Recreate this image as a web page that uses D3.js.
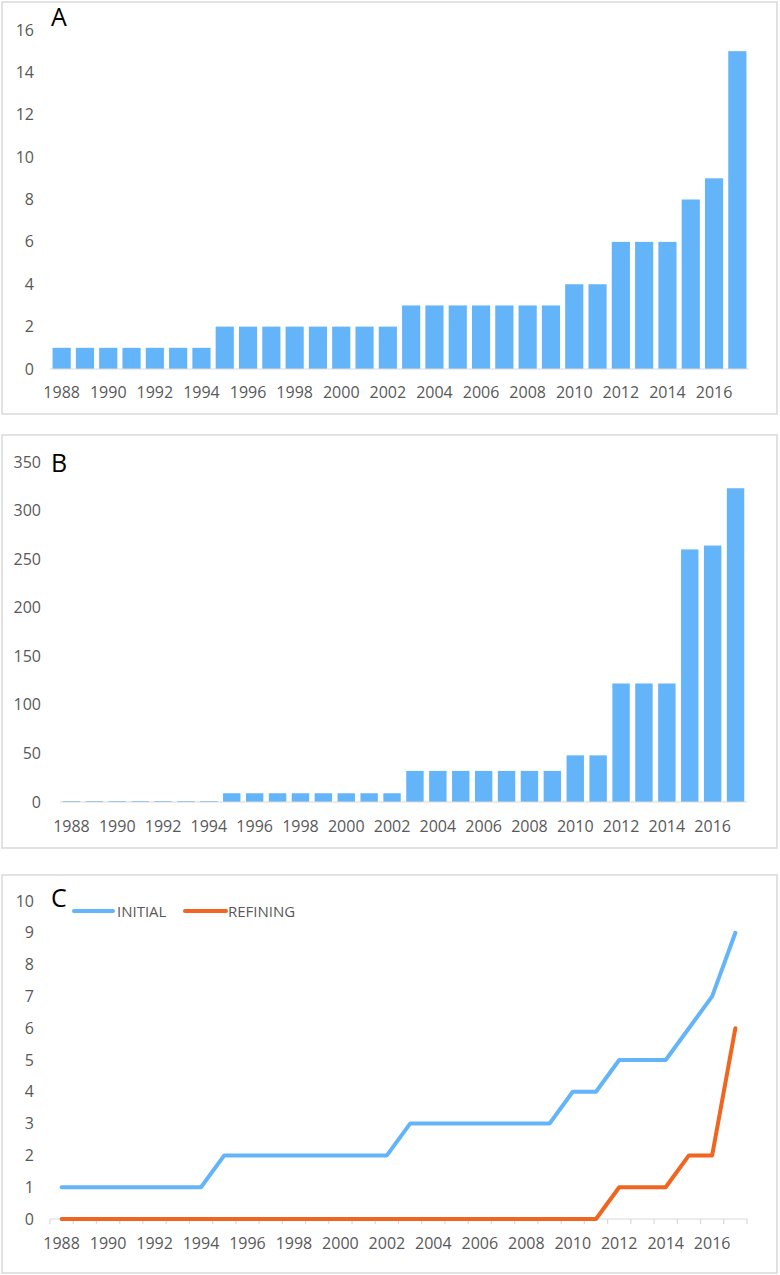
<!DOCTYPE html>
<html>
<head>
<meta charset="utf-8">
<script src="https://cdn.jsdelivr.net/npm/d3@7"></script>
<style>
  body { margin: 0; background: #fff; }
  text { font-family: "Open Sans", "Liberation Sans", sans-serif; }
</style>
</head>
<body>
<svg id="chart" width="780" height="1275"></svg>
<script>
const years = d3.range(1988, 2018);
const tickYears = d3.range(1988, 2017, 2);
const valuesA = [1,1,1,1,1,1,1,2,2,2,2,2,2,2,2,3,3,3,3,3,3,3,4,4,6,6,6,8,9,15];
const valuesB = [1,1,1,1,1,1,1,9,9,9,9,9,9,9,9,32,32,32,32,32,32,32,48,48,122,122,122,260,264,323];
const initial  = [1,1,1,1,1,1,1,2,2,2,2,2,2,2,2,3,3,3,3,3,3,3,4,4,5,5,5,6,7,9];
const refining = [0,0,0,0,0,0,0,0,0,0,0,0,0,0,0,0,0,0,0,0,0,0,0,0,1,1,1,2,2,6];
const ticksA = d3.range(0, 17, 2);
const ticksB = d3.range(0, 351, 50);
const ticksC = d3.range(0, 11, 1);
const seriesNames = ["INITIAL", "REFINING"];

const BLUE = "#64b4fa", ORANGE = "#f0651f", GRID = "#d9d9d9", TXT = "#595959";
const FS = 16;
const svg = d3.select("#chart");

// panel frames
const frames = [
  {x: 2, y: 2, w: 775, h: 412, label: "A", ly: 26},
  {x: 2, y: 435, w: 775, h: 413, label: "B", ly: 472},
  {x: 2, y: 875, w: 775, h: 398, label: "C", ly: 907}
];
frames.forEach(f => {
  svg.append("rect").attr("x", f.x).attr("y", f.y).attr("width", f.w).attr("height", f.h)
    .attr("fill", "#fff").attr("stroke", GRID).attr("stroke-width", 1.5);
});

function yAxisLabels(scale, ticks, xRight) {
  svg.append("g").selectAll("text").data(ticks).join("text")
    .attr("x", xRight).attr("y", d => scale(d)).attr("dy", "0.35em")
    .attr("text-anchor", "end").attr("font-size", FS).attr("fill", TXT).text(d => d);
}
function xLabels(posFn, baseY) {
  svg.append("g").selectAll("text").data(tickYears).join("text")
    .attr("x", d => posFn(d)).attr("y", baseY)
    .attr("text-anchor", "middle").attr("font-size", FS).attr("fill", TXT).text(d => d);
}

// ---- Panel A
const xA = d3.scaleBand().domain(years).range([50, 749]).paddingInner(0.22).paddingOuter(0.11);
const yA = d3.scaleLinear().domain([0, 16]).range([369, 30]);
svg.append("g").selectAll("rect").data(years).join("rect")
  .attr("x", d => xA(d)).attr("width", xA.bandwidth())
  .attr("y", (d, i) => yA(valuesA[i])).attr("height", (d, i) => yA(0) - yA(valuesA[i]))
  .attr("fill", BLUE);
svg.append("line").attr("x1", 50).attr("x2", 749).attr("y1", yA(0)).attr("y2", yA(0))
  .attr("stroke", GRID).attr("stroke-width", 1.2);
yAxisLabels(yA, ticksA, 34);
xLabels(d => xA(d) + xA.bandwidth() / 2, 398);

// ---- Panel B
const xB = d3.scaleBand().domain(years).range([60, 747]).paddingInner(0.24).paddingOuter(0.12);
const yB = d3.scaleLinear().domain([0, 350]).range([802, 462]);
svg.append("g").selectAll("rect").data(years).join("rect")
  .attr("x", d => xB(d)).attr("width", xB.bandwidth())
  .attr("y", (d, i) => yB(valuesB[i])).attr("height", (d, i) => yB(0) - yB(valuesB[i]))
  .attr("fill", BLUE);
svg.append("line").attr("x1", 60).attr("x2", 747).attr("y1", yB(0)).attr("y2", yB(0))
  .attr("stroke", GRID).attr("stroke-width", 1.2);
yAxisLabels(yB, ticksB, 41);
xLabels(d => xB(d) + xB.bandwidth() / 2, 832);

// ---- Panel C
const xCb = d3.scaleBand().domain(years).range([50, 747]);
const xC = d => xCb(d) + xCb.bandwidth() / 2;
const yC = d3.scaleLinear().domain([0, 10]).range([1219, 901]);
svg.append("line").attr("x1", 50).attr("x2", 747).attr("y1", yC(0)).attr("y2", yC(0))
  .attr("stroke", GRID).attr("stroke-width", 1.2);
svg.append("g").selectAll("line").data(years.concat([2018])).join("line")
  .attr("x1", d => d === 2018 ? 747 : xCb(d)).attr("x2", d => d === 2018 ? 747 : xCb(d))
  .attr("y1", yC(0)).attr("y2", yC(0) + 5).attr("stroke", GRID).attr("stroke-width", 1.2);
const line = d3.line().x(d => xC(d[0])).y(d => yC(d[1]));
[[initial, BLUE], [refining, ORANGE]].forEach(([vals, col]) => {
  svg.append("path").datum(years.map((y, i) => [y, vals[i]]))
    .attr("d", line).attr("fill", "none").attr("stroke", col)
    .attr("stroke-width", 4).attr("stroke-linecap", "round").attr("stroke-linejoin", "round");
});
yAxisLabels(yC, ticksC, 34);
xLabels(d => xC(d), 1249);

// legend
const legend = [
  {name: seriesNames[0], col: BLUE, x1: 74, x2: 113, tx: 117},
  {name: seriesNames[1], col: ORANGE, x1: 185, x2: 226, tx: 228}
];
legend.forEach(l => {
  svg.append("line").attr("x1", l.x1).attr("x2", l.x2).attr("y1", 911).attr("y2", 911)
    .attr("stroke", l.col).attr("stroke-width", 4).attr("stroke-linecap", "round");
  svg.append("text").attr("x", l.tx).attr("y", 917).attr("font-size", 15).attr("fill", TXT).text(l.name);
});

// panel letters
frames.forEach(f => {
  svg.append("text").attr("x", 51).attr("y", f.ly).attr("font-size", 25)
    .attr("font-family", "Liberation Sans, Arial, sans-serif").attr("fill", "#000").text(f.label);
});
</script>
</body>
</html>
